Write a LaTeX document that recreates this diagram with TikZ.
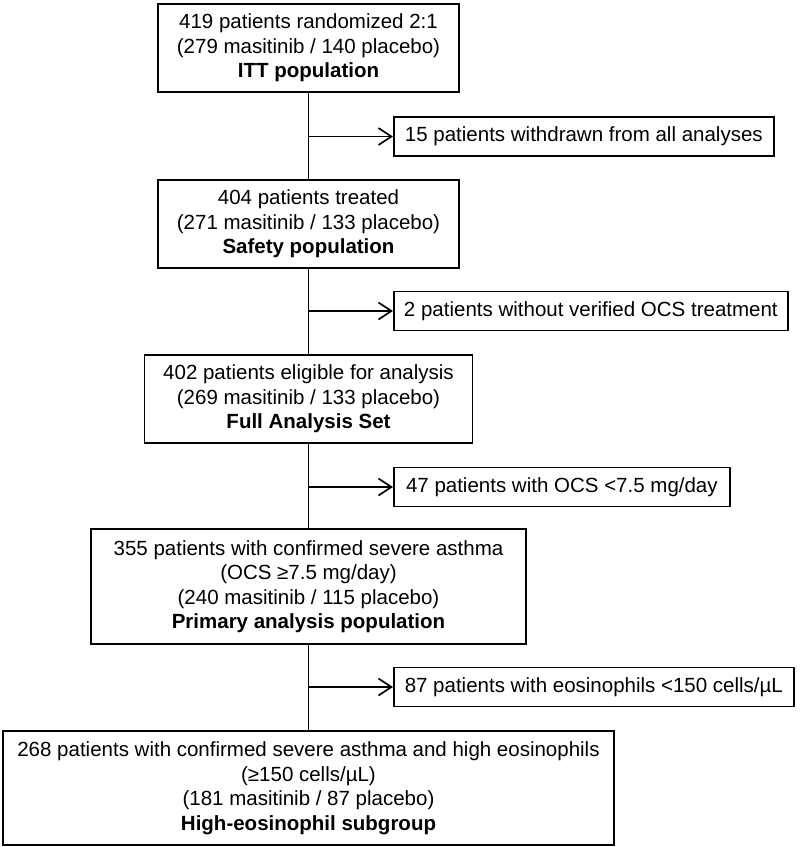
\documentclass[tikz,border=0pt]{standalone}
\usepackage{fontspec}
\setmainfont{Liberation Sans}
\usetikzlibrary{arrows.meta}

\begin{document}
\begin{tikzpicture}[x=1pt,y=-1pt,
	box/.style={draw, line width=1.7pt, inner sep=0pt, align=center,
		font=\fontsize{20.5}{24.5}\selectfont},
	exclbox/.style={box, anchor=west, minimum height=39pt},
	link/.style={line width=1.7pt}]
	\useasboundingbox (0,0) rectangle (800,847);

	\node[box, minimum width=301pt, minimum height=88pt] (1) at (308.5,48) {419 patients randomized 2:1\\(279 masitinib / 140 placebo)\\\textbf{ITT population}};
	\node[box, minimum width=301pt, minimum height=88pt] (2) at (308.5,224) {404 patients treated\\(271 masitinib / 133 placebo)\\\textbf{Safety population}};
	\node[box, minimum width=328pt, minimum height=88pt] (3) at (308.5,399) {402 patients eligible for analysis\\(269 masitinib / 133 placebo)\\\textbf{Full Analysis Set}};
	\node[box, minimum width=435pt, minimum height=115pt] (4) at (308.5,586.5) {355 patients with confirmed severe asthma\\(OCS ≥7.5 mg/day)\\(240 masitinib / 115 placebo)\\\textbf{Primary analysis population}};
	\node[box, minimum width=611pt, minimum height=114pt] (5) at (308.5,788) {268 patients with confirmed severe asthma and high eosinophils\\(≥150 cells/µL)\\(181 masitinib / 87 placebo)\\\textbf{High-eosinophil subgroup}};

	\node[exclbox, minimum width=380pt] (6) at (393,136.5) {15 patients withdrawn from all analyses};
	\node[exclbox, minimum width=394pt] (7) at (393,311) {2 patients without verified OCS treatment};
	\node[exclbox, minimum width=336pt] (8) at (393,487) {47 patients with OCS <7.5 mg/day};
	\node[exclbox, minimum width=400pt] (9) at (393,687) {87 patients with eosinophils <150 cells/µL};

	\coordinate (b1) at (1 |- 6);
	\coordinate (b2) at (2 |- 7);
	\coordinate (b3) at (3 |- 8);
	\coordinate (b4) at (4 |- 9);

	\path [-]
	(1) edge[link] (2)
	(2) edge[link] (3)
	(3) edge[link] (4)
	(4) edge[link] (5);

	\path [-{Straight Barb[length=13pt,width=17pt]}]
	(b1) edge[link] (6)
	(b2) edge[link] (7)
	(b3) edge[link] (8)
	(b4) edge[link] (9);
\end{tikzpicture}
\end{document}
